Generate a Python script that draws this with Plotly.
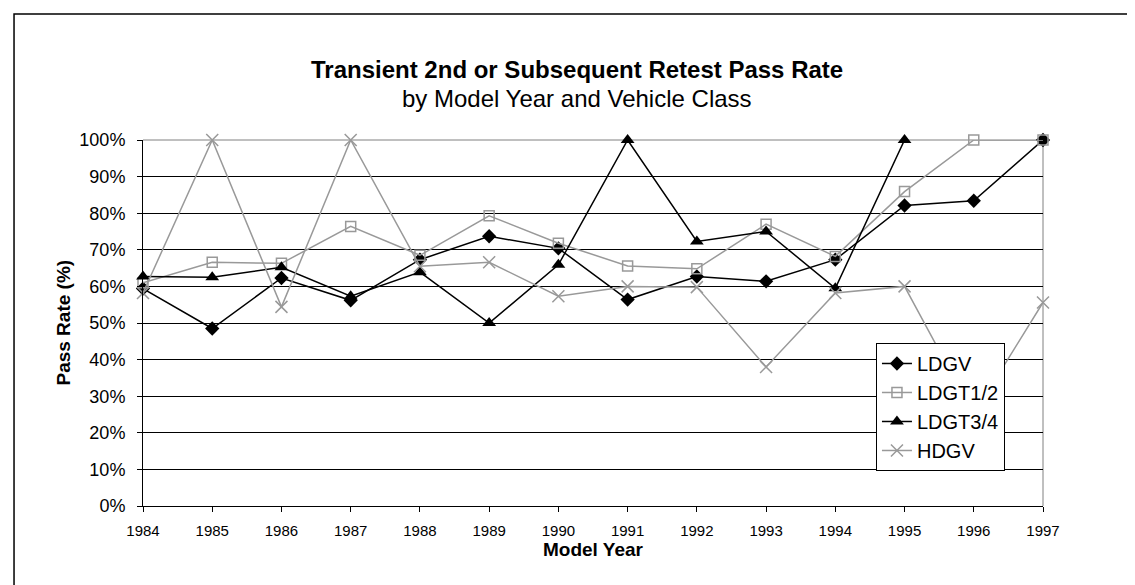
import plotly.graph_objects as go

years = list(range(1984, 1998))
ldgv = [59.4, 48.5, 62.3, 56.2, 67.3, 73.7, 70.4, 56.4, 62.7, 61.4, 67.3, 82.1, 83.4, 100]
ldgt12 = [61.0, 66.6, 66.3, 76.4, 68.5, 79.3, 71.8, 65.6, 64.8, 77.0, 68.2, 85.9, 100, 100]
ldgt34 = [62.7, 62.5, 65.2, 57.3, 63.9, 50.0, 65.9, 100, 72.3, 75.0, 59.5, 100, None, None]
hdgv = [58.2, 100, 54.4, 100, 65.5, 66.6, 57.3, 60.0, 59.8, 38.0, 58.2, 60.0, 25.0, 55.6]

FONT = "Liberation Sans, Arial, sans-serif"
GRAY = "#999999"

fig = go.Figure()
fig.add_trace(go.Scatter(x=years, y=ldgv, name="LDGV", mode="lines+markers",
                         line=dict(color="black", width=1.5),
                         marker=dict(symbol="diamond", size=11, color="black"),
                         cliponaxis=False))
fig.add_trace(go.Scatter(x=years, y=ldgt12, name="LDGT1/2", mode="lines+markers",
                         line=dict(color=GRAY, width=1.5),
                         marker=dict(symbol="square-open", size=10, color=GRAY,
                                     line=dict(width=1.5)),
                         cliponaxis=False))
fig.add_trace(go.Scatter(x=years, y=ldgt34, name="LDGT3/4", mode="lines+markers",
                         line=dict(color="black", width=1.5),
                         marker=dict(symbol="triangle-up", size=12, color="black"),
                         cliponaxis=False))
fig.add_trace(go.Scatter(x=years, y=hdgv, name="HDGV", mode="lines+markers",
                         line=dict(color=GRAY, width=1.5),
                         marker=dict(symbol="x-thin-open", size=12, color=GRAY,
                                     line=dict(width=1.5, color=GRAY)),
                         cliponaxis=False))

fig.update_layout(
    width=1135, height=585,
    margin=dict(l=135, r=100, t=132, b=87),
    paper_bgcolor="white", plot_bgcolor="white",
    font=dict(family=FONT, color="black"),
    showlegend=True,
    legend=dict(x=0.8144, y=0.4454, xanchor="left", yanchor="top",
                bgcolor="white", bordercolor="black", borderwidth=1,
                font=dict(size=20), tracegroupgap=0, itemwidth=30),
)
fig.update_xaxes(range=[1984, 1997], tickmode="linear", dtick=1,
                 showline=True, linecolor="black", linewidth=1,
                 ticks="outside", ticklen=5, tickcolor="black",
                 showgrid=False, zeroline=False, ticklabelstandoff=6,
                 tickfont=dict(size=15))
fig.update_yaxes(range=[0, 100], dtick=10, ticksuffix="%",
                 showline=True, linecolor="black", linewidth=1,
                 ticks="outside", ticklen=5, tickcolor="black",
                 showgrid=True, gridcolor="black", gridwidth=1, zeroline=False,
                 ticklabelstandoff=8,
                 tickfont=dict(size=18))

# plot area border (gray top and right), outer chart frame
fig.add_shape(type="line", xref="paper", yref="paper", x0=0, x1=1, y0=1, y1=1,
              line=dict(color="#808080", width=1), layer="below")
fig.add_shape(type="line", xref="paper", yref="paper", x0=1, x1=1, y0=0, y1=1,
              line=dict(color="#808080", width=1), layer="below")
fig.add_shape(type="rect", xref="paper", yref="paper",
              x0=-0.1433, x1=1.1044, y0=-0.2268, y1=1.3443,
              line=dict(color="black", width=1.5))

fig.add_annotation(text="<b>Transient 2nd or Subsequent Retest Pass Rate</b>",
                   xref="paper", yref="paper", x=0.482, y=1.235,
                   showarrow=False, font=dict(size=24))
fig.add_annotation(text="by Model Year and Vehicle Class",
                   xref="paper", yref="paper", x=0.482, y=1.155,
                   showarrow=False, font=dict(size=24))
fig.add_annotation(text="<b>Pass Rate (%)</b>", textangle=-90,
                   xref="paper", yref="paper", x=-0.1033, y=0.5,
                   showarrow=False, font=dict(size=19))
fig.add_annotation(text="<b>Model Year</b>",
                   xref="paper", yref="paper", x=0.5, y=-0.153,
                   showarrow=False, font=dict(size=19))

fig.write_html("out.html")
